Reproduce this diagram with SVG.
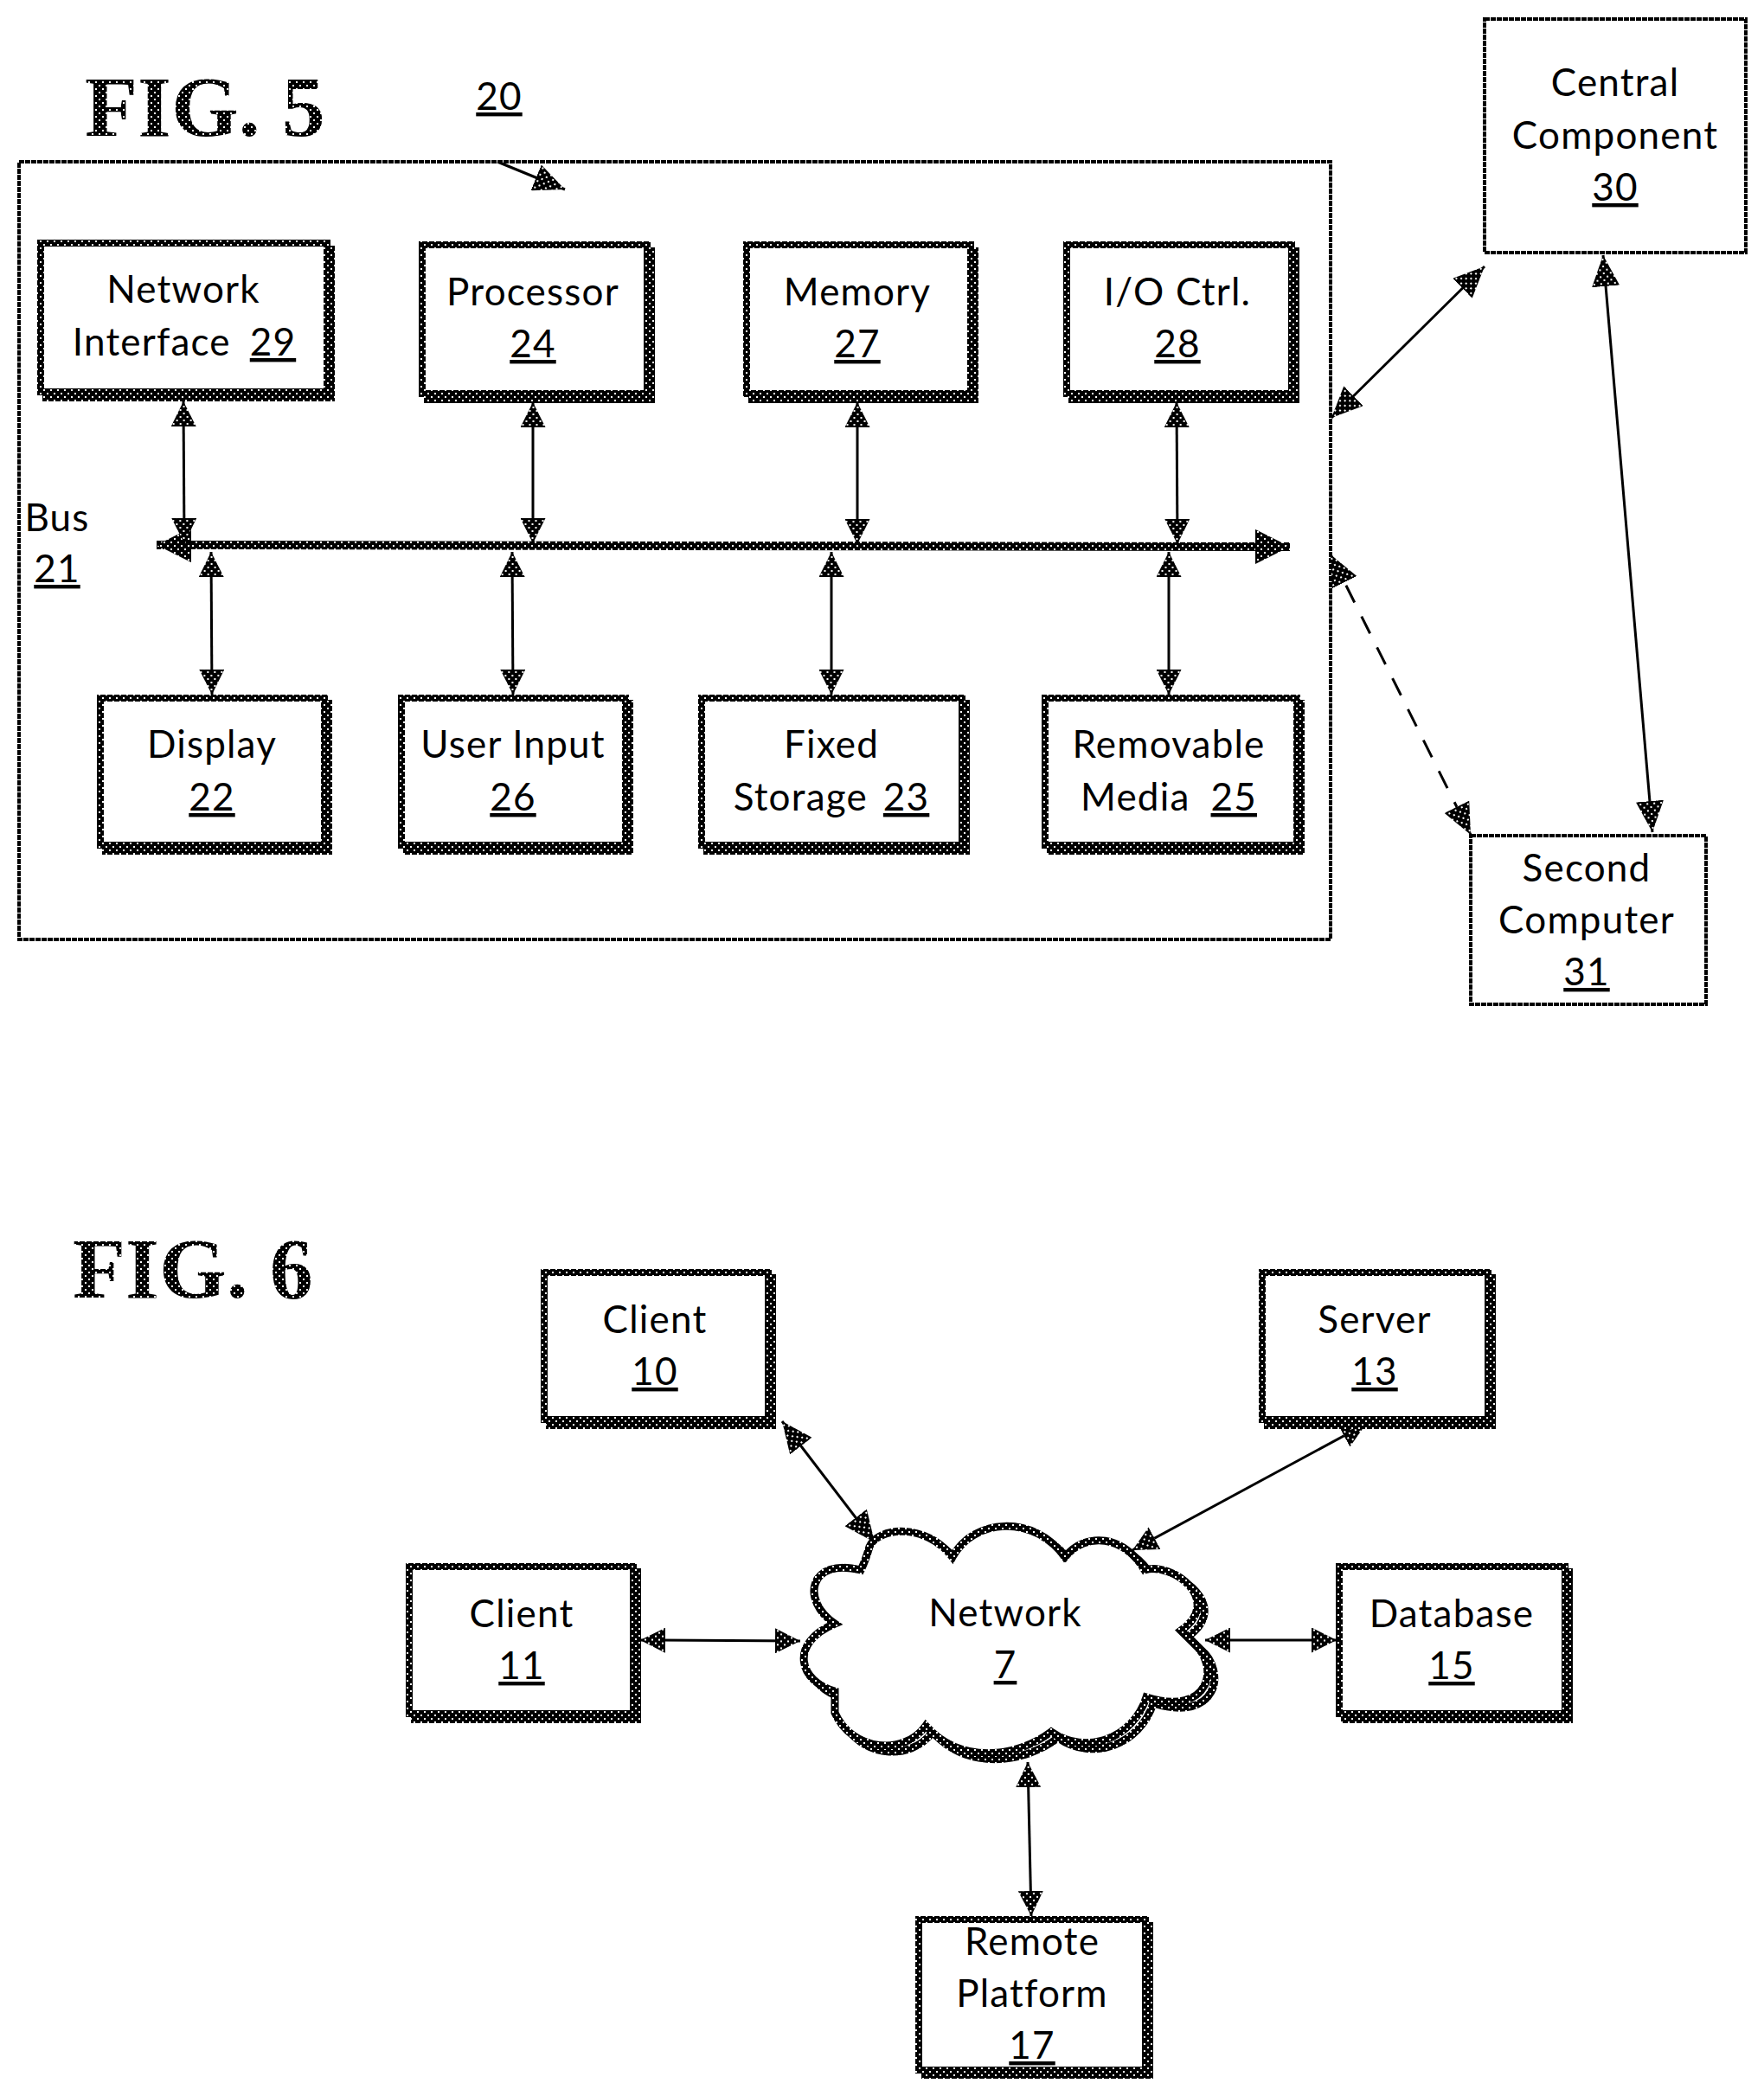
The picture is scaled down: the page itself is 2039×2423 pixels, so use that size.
<svg xmlns="http://www.w3.org/2000/svg" xmlns:xlink="http://www.w3.org/1999/xlink" width="2039" height="2423" viewBox="0 0 2039 2423">
<style>
text{font-family:Lato,"Open Sans","Liberation Sans",sans-serif;font-size:44px;letter-spacing:1.2px;fill:#000;text-anchor:middle}
.u{text-decoration:underline}
.fig{font-family:"Liberation Serif",serif;font-weight:bold;font-size:100px;letter-spacing:0;text-anchor:start;fill:url(#h)}
.sh{fill:url(#h);shape-rendering:crispEdges}
.bx{fill:#fff;stroke:url(#h);stroke-width:8;shape-rendering:crispEdges}
.th{fill:#fff;stroke:#000;stroke-width:3.500;stroke-dasharray:6 1;shape-rendering:crispEdges}
.c{fill:none;stroke:#000;stroke-width:3;marker-start:url(#a);marker-end:url(#a)}
.g{marker-start:url(#g);marker-end:url(#g)}
.d{stroke-dasharray:22 18}
.bus{fill:none;stroke:url(#h);stroke-width:10;marker-start:url(#b);marker-end:url(#b)}
.one{marker-start:none;marker-end:url(#g)}
.cl{fill:none;stroke:url(#h);stroke-width:9;stroke-linejoin:miter}
.clf{fill:#fff;stroke:url(#h);stroke-width:9;stroke-linejoin:miter}
</style>
<defs>
<pattern id="h" width="8" height="8" patternUnits="userSpaceOnUse">
<rect width="8" height="8" fill="#000"/>
<rect x="2" y="2" width="2" height="2" fill="#fff"/>
<rect x="6" y="6" width="2" height="2" fill="#fff"/>
</pattern>
<marker id="a" markerUnits="userSpaceOnUse" markerWidth="29" markerHeight="29" viewBox="0 0 29 29" refX="29" refY="14.500" orient="auto-start-reverse"><path d="M0,0L29,14.500L0,29Z" fill="url(#h)"/></marker>
<marker id="g" markerUnits="userSpaceOnUse" markerWidth="36" markerHeight="32" viewBox="0 0 36 32" refX="36" refY="16" orient="auto-start-reverse"><path d="M0,0L36,16L0,32Z" fill="url(#h)"/></marker>
<marker id="b" markerUnits="userSpaceOnUse" markerWidth="40" markerHeight="40" viewBox="0 0 40 40" refX="40" refY="20" orient="auto-start-reverse"><path d="M0,0L40,20L0,40Z" fill="url(#h)"/></marker>
<path id="cloud" d="M1005,1788C1015,1765 1070,1760 1101,1800C1125,1755 1195,1750 1231,1800C1255,1770 1300,1775 1323,1815C1355,1805 1415,1850 1365,1885L1380,1900C1410,1925 1400,1985 1325,1962C1310,2010 1255,2030 1215,2002C1175,2032 1110,2040 1070,1995C1045,2030 985,2025 965,1980L965,1955C925,1945 910,1900 965,1877C925,1850 935,1800 995,1815C1000,1805 1003,1795 1005,1788Z"/>
</defs>
<rect width="2039" height="2423" fill="#fff"/>
<text class="fig" x="98" y="157">FIG. 5</text>
<text class="fig" x="84" y="1500">FIG. 6</text>
<g id="n20"><rect class="th" x="22" y="187" width="1516" height="899"/><text class="u" x="577" y="127">20</text></g>
<g id="connectors">
<path class="c one" d="M575,187L653,219"/>
<path class="bus" d="M181,630L1491,632"/>
<path class="c" d="M212,464L213,628"/>
<path class="c" d="M616,465L616,628"/>
<path class="c" d="M991,465L991,629"/>
<path class="c" d="M1360,465L1361,629"/>
<path class="c" d="M244,638L245,803"/>
<path class="c" d="M592,638L593,803"/>
<path class="c" d="M961,638L961,803"/>
<path class="c" d="M1351,638L1351,803"/>
<path class="c g" d="M1539,483L1716,308"/>
<path class="c g" d="M1853,295L1910,962"/>
<path class="c g d" d="M1538,641L1700,965"/>
<path class="c g" d="M904,1643L1011,1783"/>
<path class="c" d="M1579,1646L1309,1792"/>
<path class="c" d="M740,1896L925,1897"/>
<path class="c" d="M1393,1896L1545,1896"/>
<path class="c" d="M1188,2037L1192,2215"/>
</g>
<g id="n29"><rect class="sh" x="49" y="284" width="338" height="180"/><rect class="bx" x="47" y="281" width="331" height="172"/><text x="212" y="350">Network</text><text x="213" y="411">Interface<tspan dx="22" class="u">29</tspan></text></g>
<g id="n24"><rect class="sh" x="490" y="286" width="267" height="180"/><rect class="bx" x="488" y="283" width="260" height="172"/><text x="616" y="353">Processor</text><text class="u" x="616" y="413">24</text></g>
<g id="n27"><rect class="sh" x="865" y="286" width="266" height="180"/><rect class="bx" x="863" y="283" width="259" height="172"/><text x="991" y="353">Memory</text><text class="u" x="991" y="413">27</text></g>
<g id="n28"><rect class="sh" x="1235" y="286" width="267" height="180"/><rect class="bx" x="1233" y="283" width="260" height="172"/><text x="1361" y="353">I/O Ctrl.</text><text class="u" x="1361" y="413">28</text></g>
<g id="n21"><text x="66" y="614">Bus</text><text class="u" x="66" y="673">21</text></g>
<g id="n22"><rect class="sh" x="118" y="809" width="266" height="179"/><rect class="bx" x="116" y="807" width="259" height="170"/><text x="245" y="876">Display</text><text class="u" x="245" y="937">22</text></g>
<g id="n26"><rect class="sh" x="466" y="809" width="266" height="179"/><rect class="bx" x="464" y="807" width="259" height="170"/><text x="593" y="876">User Input</text><text class="u" x="593" y="937">26</text></g>
<g id="n23"><rect class="sh" x="813" y="809" width="308" height="179"/><rect class="bx" x="811" y="807" width="301" height="170"/><text x="961" y="876">Fixed</text><text x="961" y="937">Storage<tspan dx="18" class="u">23</tspan></text></g>
<g id="n25"><rect class="sh" x="1210" y="809" width="298" height="179"/><rect class="bx" x="1208" y="807" width="291" height="170"/><text x="1351" y="876">Removable</text><text x="1351" y="937">Media<tspan dx="24" class="u">25</tspan></text></g>
<g id="n30"><rect class="th" x="1716" y="22" width="302" height="270"/><text x="1867" y="111">Central</text><text x="1867" y="172">Component</text><text class="u" x="1867" y="232">30</text></g>
<g id="n31"><rect class="th" x="1700" y="966" width="272" height="195"/><text x="1834" y="1019">Second</text><text x="1834" y="1079">Computer</text><text class="u" x="1834" y="1139">31</text></g>
<g id="n10"><rect class="sh" x="631" y="1473" width="266" height="179"/><rect class="bx" x="629" y="1471" width="259" height="170"/><text x="757" y="1541">Client</text><text class="u" x="757" y="1601">10</text></g>
<g id="n13"><rect class="sh" x="1461" y="1473" width="268" height="179"/><rect class="bx" x="1459" y="1471" width="261" height="170"/><text x="1589" y="1541">Server</text><text class="u" x="1589" y="1601">13</text></g>
<g id="n11"><rect class="sh" x="475" y="1813" width="266" height="179"/><rect class="bx" x="473" y="1811" width="259" height="170"/><text x="603" y="1881">Client</text><text class="u" x="603" y="1941">11</text></g>
<g id="n15"><rect class="sh" x="1550" y="1813" width="268" height="179"/><rect class="bx" x="1548" y="1811" width="261" height="170"/><text x="1678" y="1881">Database</text><text class="u" x="1678" y="1941">15</text></g>
<g id="n7"><use href="#cloud" class="cl" transform="translate(8 7)"/><use href="#cloud" class="clf"/><text x="1162" y="1880">Network</text><text class="u" x="1162" y="1940">7</text></g>
<g id="n17"><rect class="sh" x="1065" y="2222" width="268" height="181"/><rect class="bx" x="1062" y="2219" width="262" height="174"/><text x="1193" y="2260">Remote</text><text x="1193" y="2320">Platform</text><text class="u" x="1193" y="2380">17</text></g>
</svg>
